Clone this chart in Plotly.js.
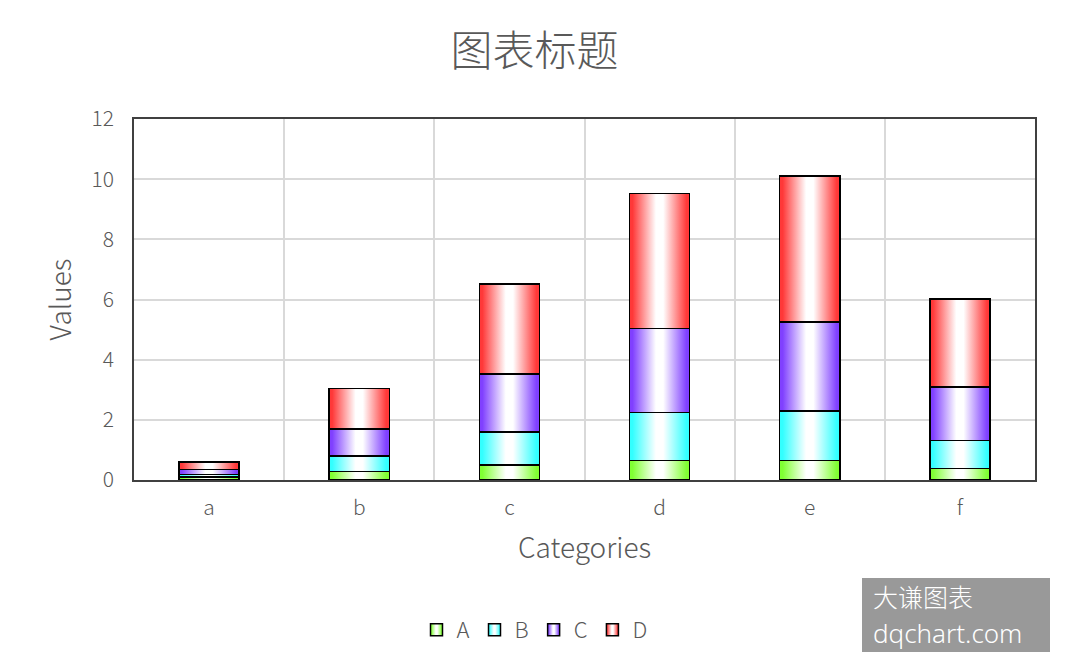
<!DOCTYPE html>
<html>
<head>
<meta charset="utf-8">
<script src="https://cdn.plot.ly/plotly-3.0.1.min.js"></script>
<style>
  body { margin: 0; background: #fff; }
  #chart { width: 1069px; height: 672px; }
</style>
</head>
<body>
<div id="chart"></div>
<script>
// data
const categories = ['a', 'b', 'c', 'd', 'e', 'f'];
const seriesA = [0.10, 0.28, 0.50, 0.65, 0.65, 0.38];
const seriesB = [0.08, 0.52, 1.10, 1.59, 1.65, 0.94];
const seriesC = [0.17, 0.90, 1.92, 2.80, 2.96, 1.77];
const seriesD = [0.25, 1.35, 3.00, 4.48, 4.84, 2.93];
const seriesNames = ['A', 'B', 'C', 'D'];
const seriesColors = ['#80ff33', '#33ffff', '#8040ff', '#ff3838'];

const font = '"Noto Sans CJK SC", "Noto Sans", sans-serif';
const textColor = '#595959';

var values = [seriesA, seriesB, seriesC, seriesD];
var data = [];
seriesNames.forEach((n, i) => {
    data.push({
        type: 'bar', name: n, x: categories, y: values[i],
        marker: {color: seriesColors[i], line: {color: '#000', width: 1.5}},
        hoverinfo: 'x+y+name',
    });
});

// plot area in pixels, used to place the watermark
var px = {l: 134, r: 1035, t: 119, b: 480};
function paperX(p) { return (p - px.l) / (px.r - px.l); }
function paperY(p) { return (px.b - p) / (px.b - px.t); }

var layout = {
    width: 1069, height: 672,
    barmode: 'stack', bargap: 0.6,
    font: {family: font, color: textColor, weight: 300},
    title: {text: '图表标题', font: {size: 42, color: textColor, weight: 300}, x: 0.5, xref: 'container',
            y: 1 - 51 / 672, yref: 'container', yanchor: 'middle'},
    margin: {l: 134, r: 34, t: 119, b: 192},
    xaxis: {
        type: 'category', tickson: 'boundaries', ticks: '',
        showgrid: true, gridcolor: '#d9d9d9', gridwidth: 1.5,
        showline: true, linecolor: '#404040', linewidth: 1.5, mirror: true,
        tickfont: {size: 21, color: textColor, weight: 300}, ticklabelstandoff: 8,
        title: {text: 'Categories', font: {size: 28, color: textColor, weight: 300}, standoff: 18},
    },
    yaxis: {
        range: [0, 12], dtick: 2, ticks: '', zeroline: false,
        showgrid: true, gridcolor: '#d9d9d9', gridwidth: 1.5,
        showline: true, linecolor: '#404040', linewidth: 1.5, mirror: true,
        tickfont: {size: 21, color: textColor, weight: 300}, ticklabelstandoff: 14,
        title: {text: 'Values', font: {size: 28, color: textColor, weight: 300}, standoff: 12},
    },
    legend: {orientation: 'h', traceorder: 'normal', xref: 'container', x: 0.5, xanchor: 'center',
             yref: 'container', y: 1 - 630 / 672, yanchor: 'middle',
             font: {size: 22, color: textColor, weight: 300}, itemwidth: 30},
    shapes: [{
        type: 'rect', xref: 'paper', yref: 'paper', layer: 'above',
        x0: paperX(862), x1: paperX(1050), y0: paperY(652), y1: paperY(578),
        fillcolor: '#999999', line: {width: 0},
    }],
    annotations: [
        {xref: 'paper', yref: 'paper', x: paperX(872), y: paperY(596), xanchor: 'left', yanchor: 'middle',
         showarrow: false, borderpad: 0, text: '大谦图表',
         font: {size: 25, color: '#ffffff', family: font, weight: 300}},
        {xref: 'paper', yref: 'paper', x: paperX(872), y: paperY(633), xanchor: 'left', yanchor: 'middle',
         showarrow: false, borderpad: 0, text: 'dqchart.com',
         font: {size: 26, color: '#ffffff', family: '"Noto Sans", sans-serif', weight: 300}},
    ],
    paper_bgcolor: '#fff', plot_bgcolor: '#fff',
};

// horizontal gradient: colour at the edges, white in the middle
function applyGradients(gd) {
    var svg = gd.querySelector('.main-svg');
    var defs = svg.querySelector('defs');
    var ns = 'http://www.w3.org/2000/svg';
    seriesNames.forEach((n, i) => {
        var id = 'grad' + n;
        if (document.getElementById(id)) return;
        var g = document.createElementNS(ns, 'linearGradient');
        g.setAttribute('id', id);
        g.setAttribute('x1', '0'); g.setAttribute('y1', '0');
        g.setAttribute('x2', '1'); g.setAttribute('y2', '0');
        [[0, seriesColors[i]], [0.05, seriesColors[i]], [0.44, '#ffffff'], [0.56, '#ffffff'],
         [0.95, seriesColors[i]], [1, seriesColors[i]]].forEach(s => {
            var st = document.createElementNS(ns, 'stop');
            st.setAttribute('offset', s[0]);
            st.setAttribute('stop-color', s[1]);
            g.appendChild(st);
        });
        defs.appendChild(g);
    });
    gd.querySelectorAll('.barlayer .trace.bars').forEach((t, i) => {
        t.querySelectorAll('path').forEach(p => { p.style.fill = 'url(#grad' + seriesNames[i] + ')'; });
    });
    gd.querySelectorAll('.legend .traces').forEach((t, i) => {
        t.querySelectorAll('.legendpoints path').forEach(p => { p.style.fill = 'url(#grad' + seriesNames[i] + ')'; });
    });
}

var gd = document.getElementById('chart');
Plotly.newPlot(gd, data, layout, {displayModeBar: false}).then(() => {
    applyGradients(gd);
    gd.on('plotly_afterplot', () => applyGradients(gd));
});
</script>
</body>
</html>
